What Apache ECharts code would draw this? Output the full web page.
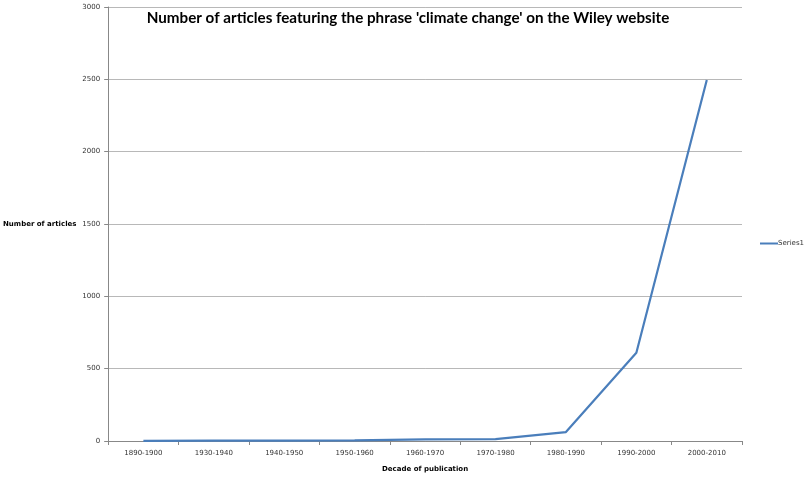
<!DOCTYPE html>
<html><head><meta charset="utf-8">
<script src="https://cdn.jsdelivr.net/npm/echarts@6/dist/echarts.min.js"></script>
<style>html,body{margin:0;padding:0;background:#fff}#c{width:810px;height:478px}</style>
</head><body><div id="c"></div>
<script>
const categories = ['1890-1900','1930-1940','1940-1950','1950-1960','1960-1970','1970-1980','1980-1990','1990-2000','2000-2010'];
const series1 = [1, 3, 3, 4, 11, 13, 62, 610, 2495];
const yTicks = [0, 500, 1000, 1500, 2000, 2500, 3000];

const chart = echarts.init(document.getElementById('c'));
chart.setOption({
  animation: false,
  title: {
    text: "Number of articles featuring the phrase 'climate change' on the Wiley website",
    left: 403, top: 6, textAlign: 'center',
    textStyle: {fontFamily: 'Lato', fontWeight: 'bold', fontSize: 15.2, color: '#000'}
  },
  legend: {
    data: ['Series1'], orient: 'vertical', left: 755, top: 235,
    itemWidth: 18, itemHeight: 2, itemGap: 2, icon: 'rect',
    textStyle: {fontFamily: 'DejaVu Sans', fontSize: 7, color: '#333', padding: [0,0,0,-5]}
  },
  grid: {left: 108, right: 68, top: 7, bottom: 37, containLabel: false},
  xAxis: {
    type: 'category', data: categories, boundaryGap: true,
    name: 'Decade of publication', nameLocation: 'middle', nameGap: 25,
    nameTextStyle: {fontFamily: 'DejaVu Sans', fontWeight: 'bold', fontSize: 7, color: '#000'},
    axisLine: {lineStyle: {color: '#888', width: 1}},
    axisTick: {show: true, length: 4, lineStyle: {color: '#888'}},
    axisLabel: {fontFamily: 'DejaVu Sans', fontSize: 7, color: '#333', margin: 9}
  },
  yAxis: {
    type: 'value', min: 0, max: 3000, interval: 500,
    name: 'Number of articles', nameLocation: 'middle', nameRotate: 0, nameGap: 30,
    nameTextStyle: {fontFamily: 'DejaVu Sans', fontWeight: 'bold', fontSize: 7, color: '#000', align: 'right', padding: [6,0,0,0]},
    axisLine: {show: true, lineStyle: {color: '#888', width: 1}},
    axisTick: {show: true, length: 4, lineStyle: {color: '#888'}},
    splitLine: {lineStyle: {color: '#b8b8b8', width: 1}},
    axisLabel: {fontFamily: 'DejaVu Sans', fontSize: 7, color: '#333', margin: 8,
      formatter: v => yTicks.includes(v) ? String(v) : ''}
  },
  series: [{
    name: 'Series1', type: 'line', data: series1,
    symbol: 'none', lineStyle: {color: '#4a7ebb', width: 2.2}, itemStyle: {color: '#4a7ebb'}
  }]
});
</script></body></html>
